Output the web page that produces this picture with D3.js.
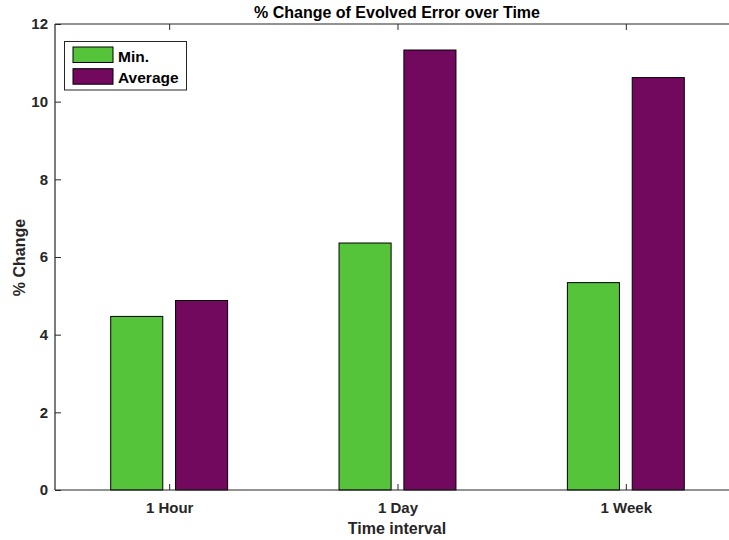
<!DOCTYPE html>
<html><head><meta charset="utf-8">
<script src="https://cdn.jsdelivr.net/npm/d3@7"></script>
<style>body{margin:0;background:#fff;} text{font-family:"Liberation Sans",Arial,sans-serif;font-weight:bold;}</style>
</head><body>
<svg id="c" width="729" height="540"></svg>
<script>
const categories = ["1 Hour", "1 Day", "1 Week"];
const seriesNames = ["Min.", "Average"];
const minValues = [4.47, 6.36, 5.34];
const avgValues = [4.88, 11.33, 10.62];
const yTicks = [0, 2, 4, 6, 8, 10, 12];
const colors = ["#55c43a", "#73085f"];

(function () {
const svg = d3.select("#c");
const mL = 55, mR = 740, mT = 24, mB = 490;
const x = d3.scaleLinear().domain([0.5, 3.5]).range([mL, mR]);
const y = d3.scaleLinear().domain([0, 12]).range([mB, mT]);
const barW = 0.228, off = 0.142;
const series = [minValues, avgValues];
const axisCol = "#262626";

const g = svg.append("g");
series.forEach((vals, si) => {
  g.selectAll(null).data(vals).enter().append("rect")
    .attr("x", (d, i) => x(i + 1 + (si === 0 ? -off : off) - barW / 2))
    .attr("width", x(barW) - x(0))
    .attr("y", d => y(d))
    .attr("height", d => y(0) - y(d))
    .attr("fill", colors[si])
    .attr("stroke", "#000").attr("stroke-width", 1);
});

const yAxis = d3.axisLeft(y).tickValues(yTicks).tickSize(-6).tickPadding(7).tickFormat(d3.format("d"));
const ya = svg.append("g").attr("transform", `translate(${mL},0)`).call(yAxis);
const xAxis = d3.axisBottom(x).tickValues([1, 2, 3]).tickSize(-6).tickPadding(12).tickFormat((d) => categories[d - 1]);
const xa = svg.append("g").attr("transform", `translate(0,${mB})`).call(xAxis);
const xTop = d3.axisTop(x).tickValues([1, 2, 3]).tickSize(-6).tickFormat("");
const xt = svg.append("g").attr("transform", `translate(0,${mT})`).call(xTop);
[ya, xa, xt].forEach(a => {
  a.select(".domain").attr("stroke", axisCol).attr("stroke-width", 1.2);
  a.selectAll(".tick line").attr("stroke", axisCol).attr("stroke-width", 1);
  a.selectAll("text").attr("fill", axisCol).style("font-size", "15px").style("font-family", '"Liberation Sans",Arial,sans-serif').style("font-weight", "bold");
});
xa.selectAll("text").attr("dy", null).attr("y", 23);
ya.select(".domain").attr("d", `M0,${mB}V${mT}`);
xa.select(".domain").attr("d", `M${mL},0H${mR}`);
xt.select(".domain").attr("d", `M${mL},0H${mR}`);

svg.append("text").attr("x", 397).attr("y", 17.5).attr("text-anchor", "middle")
  .style("font-size", "16px").attr("fill", "#000").text("% Change of Evolved Error over Time");
svg.append("text").attr("x", 397).attr("y", 534).attr("text-anchor", "middle")
  .style("font-size", "16px").attr("fill", axisCol).text("Time interval");
svg.append("text").attr("transform", "translate(25,257.5) rotate(-90)").attr("text-anchor", "middle")
  .style("font-size", "16px").attr("fill", axisCol).text("% Change");

const lg = svg.append("g");
lg.append("rect").attr("x", 64.5).attr("y", 41.5).attr("width", 122).attr("height", 48.5)
  .attr("fill", "#fff").attr("stroke", axisCol).attr("stroke-width", 1);
seriesNames.forEach((n, i) => {
  lg.append("rect").attr("x", 73).attr("y", 47 + i * 21.7).attr("width", 40).attr("height", 15.5)
    .attr("fill", colors[i]).attr("stroke", "#000").attr("stroke-width", 1);
  lg.append("text").attr("x", 118).attr("y", 61.5 + i * 21.7).style("font-size", "15.5px").attr("fill", "#000").text(n);
});
})();
</script>
</body></html>
